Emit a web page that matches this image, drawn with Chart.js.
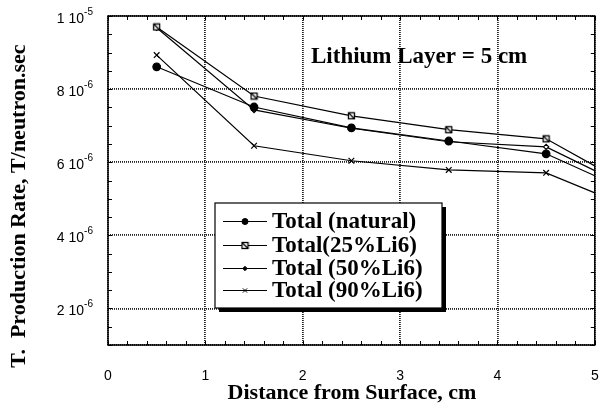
<!DOCTYPE html>
<html>
<head>
<meta charset="utf-8">
<script src="https://cdn.jsdelivr.net/npm/chart.js@4"></script>
<style>
  html, body { margin: 0; padding: 0; background: #fff; }
  #wrap { width: 600px; height: 406px; position: relative; }
</style>
</head>
<body>
<div id="wrap"><canvas id="chart"></canvas></div>
<script>
// Datos (valores en unidades de 1e-6 T/neutron.sec)
const distances = [0.5, 1.5, 2.5, 3.5, 4.5, 5];
const totalNatural = [8.61, 7.51, 6.94, 6.58, 6.23, 5.63];
const total25 = [9.70, 7.81, 7.27, 6.89, 6.64, 5.90];
const total50 = [9.68, 7.43, 6.93, 6.56, 6.42, 5.77];
const total90 = [8.93, 6.45, 6.04, 5.79, 5.71, 5.16];

const seriesNames = ["Total (natural)", "Total(25%Li6)", "Total (50%Li6)", "Total (90%Li6)"];
const xTicks = [0, 1, 2, 3, 4, 5];
const yTicks = [2, 4, 6, 8, 10];

const SERIF = '"Liberation Serif", "Times New Roman", serif';
const SANS = '"Liberation Sans", Arial, sans-serif';

// Marcador: cuadrado con diagonal
function makeSquareMark() {
  const c = document.createElement("canvas");
  c.width = 9; c.height = 9;
  const g = c.getContext("2d");
  g.fillStyle = "#fff";
  g.fillRect(1, 1, 7, 7);
  g.strokeStyle = "#000";
  g.lineWidth = 1.3;
  g.strokeRect(1.5, 1.5, 6, 6);
  g.beginPath();
  g.moveTo(2, 2); g.lineTo(7, 7);
  g.stroke();
  return c;
}
const squareMark = makeSquareMark();

function toPoints(vals) {
  return distances.map((d, i) => ({ x: d, y: vals[i] }));
}

const styles = [
  { pointStyle: "circle", pointRadius: 3.8, bg: "#000" },
  { pointStyle: squareMark, pointRadius: 4, bg: "#fff" },
  { pointStyle: "rectRot", pointRadius: 2.6, bg: "#fff" },
  { pointStyle: "cross", pointRadius: 4, bg: "#000", rotation: 45 },
];
const allSeries = [totalNatural, total25, total50, total90];

// sin marcador en el borde derecho (x = 5)
const radiusFor = r => distances.map(d => (d >= 5 ? 0 : r));

const datasets = allSeries.map((vals, i) => ({
  label: seriesNames[i],
  data: toPoints(vals),
  borderColor: "#000",
  borderWidth: 1.2,
  backgroundColor: styles[i].bg,
  pointBackgroundColor: styles[i].bg,
  pointBorderColor: "#000",
  pointBorderWidth: 1.2,
  pointStyle: styles[i].pointStyle,
  pointRadius: radiusFor(styles[i].pointRadius),
  pointRotation: styles[i].rotation || 0,
  tension: 0,
}));

// Dibujo de ejes, ticks, leyenda y textos
const decorPlugin = {
  id: "decor",
  afterDraw(chart) {
    const ctx = chart.ctx;
    const a = chart.chartArea;
    const xs = chart.scales.x, ys = chart.scales.y;
    ctx.save();

    // borde
    ctx.strokeStyle = "#000";
    ctx.lineWidth = 1.5;
    ctx.strokeRect(a.left, a.top, a.right - a.left, a.bottom - a.top);

    // ticks menores hacia adentro
    ctx.lineWidth = 1;
    ctx.beginPath();
    for (let v = 0; v <= 5.001; v += 0.2) {
      const px = Math.round(xs.getPixelForValue(v)) + 0.5;
      ctx.moveTo(px, a.bottom); ctx.lineTo(px, a.bottom - 4);
      ctx.moveTo(px, a.top); ctx.lineTo(px, a.top + 4);
    }
    for (let v = 1; v <= 10.001; v += 0.5) {
      const py = Math.round(ys.getPixelForValue(v)) + 0.5;
      ctx.moveTo(a.left, py); ctx.lineTo(a.left + 4, py);
      ctx.moveTo(a.right, py); ctx.lineTo(a.right - 4, py);
    }
    ctx.stroke();

    // etiquetas eje X
    ctx.fillStyle = "#000";
    ctx.font = "14px " + SANS;
    ctx.textAlign = "center";
    ctx.textBaseline = "middle";
    xTicks.forEach(v => ctx.fillText(String(v), xs.getPixelForValue(v), 376));

    // etiquetas eje Y con exponente
    yTicks.forEach(v => {
      const py = ys.getPixelForValue(v);
      const mant = v === 10 ? "1" : String(v);
      const exp = v === 10 ? "-5" : "-6";
      ctx.font = "10px " + SANS;
      const ew = ctx.measureText(exp).width;
      ctx.textAlign = "right";
      ctx.textBaseline = "middle";
      ctx.fillText(exp, 93, py - 4);
      ctx.font = "14px " + SANS;
      ctx.fillText(mant + " 10", 93 - ew, py + 3);
    });

    // títulos de ejes
    ctx.font = "bold 22px " + SERIF;
    ctx.textAlign = "center";
    ctx.fillText("Distance from Surface, cm", 352, 393);
    ctx.save();
    ctx.translate(19, 206);
    ctx.rotate(-Math.PI / 2);
    ctx.fillText("T.  Production Rate, T/neutron.sec", 0, 0);
    ctx.restore();

    // anotación
    ctx.font = "bold 23px " + SERIF;
    ctx.textAlign = "left";
    ctx.fillText("Lithium Layer = 5 cm", 311, 57);

    // leyenda con sombra
    const lx = 215, ly = 203, lw = 227, lh = 105;
    ctx.fillStyle = "#000";
    ctx.fillRect(lx + 4, ly + 4, lw, lh);
    ctx.fillStyle = "#fff";
    ctx.fillRect(lx, ly, lw, lh);
    ctx.strokeStyle = "#000";
    ctx.lineWidth = 1.2;
    ctx.strokeRect(lx, ly, lw, lh);

    const rows = [221, 245, 268, 290];
    chart.data.datasets.forEach((ds, i) => {
      const y = rows[i] + 0.5;
      ctx.strokeStyle = "#000";
      ctx.lineWidth = 1.2;
      ctx.beginPath();
      ctx.moveTo(223, y); ctx.lineTo(267, y);
      ctx.stroke();
      const r = i === 0 ? 3 : (i === 2 ? 2.2 : 3);
      ctx.fillStyle = i === 2 ? "#000" : styles[i].bg;
      ctx.lineWidth = 1;
      Chart.helpers.drawPoint(ctx, {
        pointStyle: ds.pointStyle,
        rotation: ds.pointRotation,
        radius: r,
        borderWidth: 1,
      }, 245, y);
      ctx.fillStyle = "#000";
      ctx.font = "bold 23px " + SERIF;
      ctx.textAlign = "left";
      ctx.textBaseline = "middle";
      ctx.fillText(ds.label, 272, y + 1);
    });
    ctx.restore();
  },
};

Chart.defaults.font.family = SANS;

new Chart(document.getElementById("chart"), {
  type: "line",
  data: { datasets },
  options: {
    responsive: true,
    maintainAspectRatio: false,
    animation: false,
    layout: { padding: { top: 16, right: 3, left: 0, bottom: 0 } },
    plugins: { legend: { display: false }, tooltip: { enabled: false } },
    scales: {
      x: {
        type: "linear",
        min: 0, max: 5,
        ticks: { display: false, stepSize: 1 },
        grid: { color: "#222", lineWidth: 1.8, drawTicks: false },
        border: { display: false, dash: [1, 1] },
        afterFit: s => { s.height = 61; },
      },
      y: {
        type: "linear",
        min: 1, max: 10,
        ticks: { display: false, stepSize: 2 },
        grid: { color: "#222", lineWidth: 1.8, drawTicks: false },
        border: { display: false, dash: [1, 1] },
        afterFit: s => { s.width = 108; },
      },
    },
  },
  plugins: [decorPlugin],
});
</script>
</body>
</html>
